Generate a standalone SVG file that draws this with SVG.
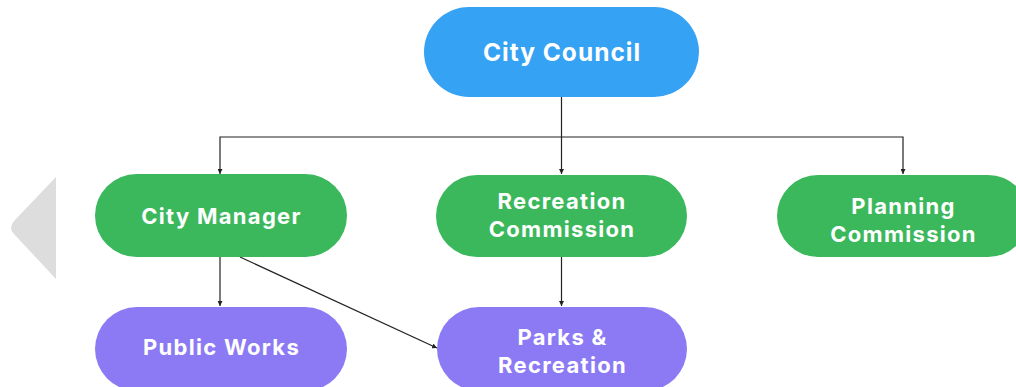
<svg xmlns="http://www.w3.org/2000/svg" width="1016" height="387" viewBox="0 0 1016 387">
<defs>
<marker id="arr" viewBox="0 0 6 6" refX="6" refY="3" markerWidth="5" markerHeight="5" orient="auto" markerUnits="userSpaceOnUse">
<path d="M0,0 L6,3 L0,6 Z" fill="#222"/>
</marker>
<style>
.lbl{font-family:Inter,"Liberation Sans",sans-serif;font-weight:700;fill:#fff;text-anchor:middle;dominant-baseline:central;font-size:22px;letter-spacing:1.3px}
.big{font-size:24.5px;letter-spacing:1px}
.blue{fill:#36A2F4}
.green{fill:#3BB85C}
.purple{fill:#8C7AF5}
.edge{fill:none;stroke:#222;stroke-width:1.2;marker-end:url(#arr)}
</style>
</defs>
<rect width="1016" height="387" fill="#fff"/>
<path d="M56,177 L56,279 L14,234 Q8,228 14,221 Z" fill="#DDDDDD"/>
<g id="connectors">
<path class="edge" d="M561.5,97 V137 H220 V174"/>
<path class="edge" d="M561.5,137 V174"/>
<path class="edge" d="M561.5,137 H903 V174"/>
<path class="edge" d="M220,257 V306"/>
<path class="edge" d="M240,257 L437,348"/>
<path class="edge" d="M561.5,257 V306"/>
</g>
<g id="city-council">
<rect class="blue" x="424" y="7" width="275" height="90" rx="45"/>
<text class="lbl big" x="562" y="52">City Council</text>
</g>
<g id="city-manager">
<rect class="green" x="95" y="174" width="252" height="83" rx="41.5"/>
<text class="lbl" x="221.5" y="216">City Manager</text>
</g>
<g id="recreation-commission">
<rect class="green" x="436" y="175" width="251" height="82" rx="41"/>
<text class="lbl" x="562" y="201">Recreation</text>
<text class="lbl" x="562" y="229">Commission</text>
</g>
<g id="planning-commission">
<rect class="green" x="777" y="175" width="252" height="82" rx="41"/>
<text class="lbl" x="903.5" y="206">Planning</text>
<text class="lbl" x="903.5" y="234">Commission</text>
</g>
<g id="public-works">
<rect class="purple" x="95" y="307" width="252" height="84" rx="42"/>
<text class="lbl" x="221.5" y="347">Public Works</text>
</g>
<g id="parks-recreation">
<rect class="purple" x="437" y="307" width="250" height="84" rx="42"/>
<text class="lbl" x="562.5" y="337">Parks &amp;</text>
<text class="lbl" x="562.5" y="365">Recreation</text>
</g>
</svg>
